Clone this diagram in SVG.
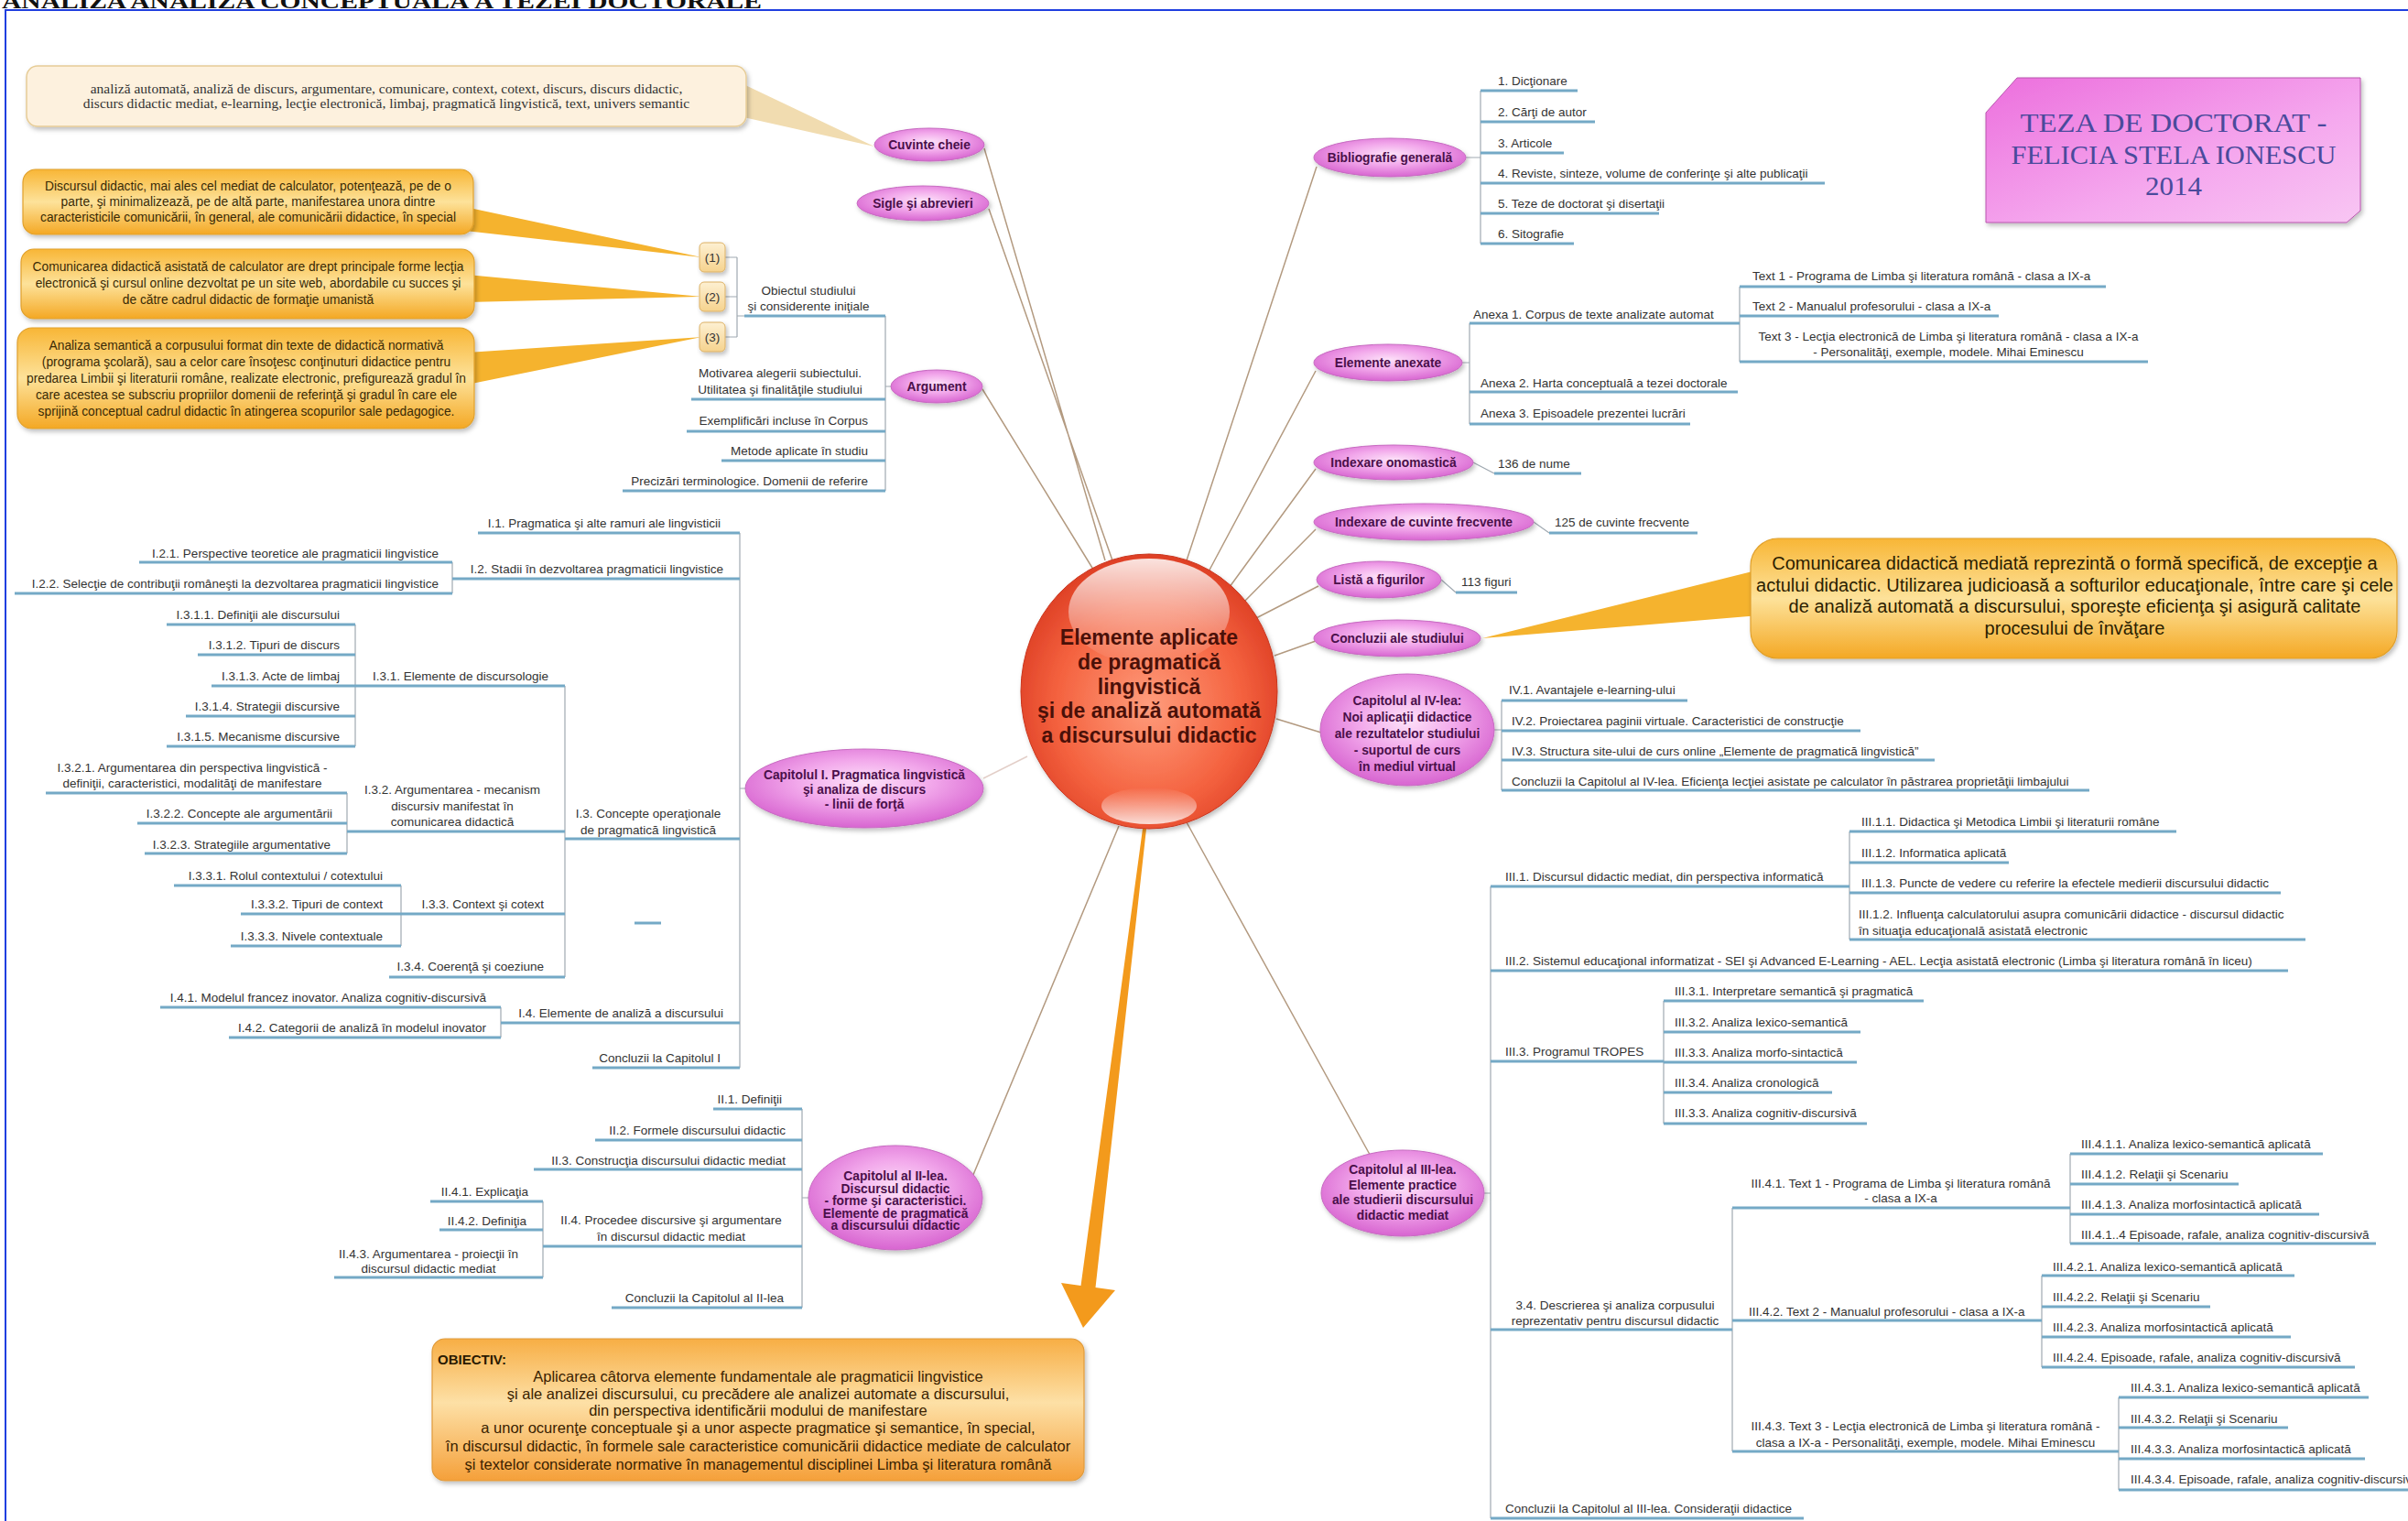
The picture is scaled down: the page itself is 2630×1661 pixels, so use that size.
<svg xmlns="http://www.w3.org/2000/svg" width="2630" height="1661" viewBox="0 0 2630 1661">
<style>
.t{font-family:"Liberation Sans",Arial,sans-serif;font-size:13.5px;fill:#333}
.e{text-anchor:end}.m{text-anchor:middle}
.ul{stroke:#74a9c6;stroke-width:3;fill:none}
.br{stroke:#a0a9b1;stroke-width:1.2;fill:none}
.mn{fill:url(#pink);stroke:#c66bc0;stroke-width:1;filter:url(#sh)}
.mt{font-family:"Liberation Sans",Arial,sans-serif;font-weight:bold;font-size:13.8px;fill:#4a0f4a;text-anchor:middle}
.cn{stroke:#b39a80;stroke-width:1.5;fill:none}
.nt{font-family:"Liberation Sans",Arial,sans-serif;font-size:13.8px;fill:#3a2a05;text-anchor:middle}
.org{fill:url(#org);stroke:#e0a02c;stroke-width:1.2;filter:url(#sh)}
.tail{fill:#f5b32e}
.sb{fill:url(#cream);stroke:#dcb064;stroke-width:1;filter:url(#sh)}
</style>
<defs>
<radialGradient id="pink" cx="50%" cy="42%" r="62%"><stop offset="0" stop-color="#fde2f9"/><stop offset="0.45" stop-color="#f2a8eb"/><stop offset="1" stop-color="#d45ccd"/></radialGradient>
<radialGradient id="red" cx="50%" cy="55%" r="60%"><stop offset="0" stop-color="#ff9c7c"/><stop offset="0.6" stop-color="#f4623f"/><stop offset="1" stop-color="#d8361e"/></radialGradient>
<linearGradient id="hl" x1="0" y1="0" x2="0" y2="1"><stop offset="0" stop-color="#fff" stop-opacity="0.85"/><stop offset="1" stop-color="#fff" stop-opacity="0"/></linearGradient>
<linearGradient id="hl2" x1="0" y1="1" x2="0" y2="0"><stop offset="0" stop-color="#fff" stop-opacity="0.8"/><stop offset="1" stop-color="#fff" stop-opacity="0"/></linearGradient>
<linearGradient id="org" x1="0" y1="0" x2="0" y2="1"><stop offset="0" stop-color="#f8b636"/><stop offset="0.5" stop-color="#fde29a"/><stop offset="1" stop-color="#f4a824"/></linearGradient>
<linearGradient id="obj" x1="0" y1="0" x2="0" y2="1"><stop offset="0" stop-color="#f7ae45"/><stop offset="0.45" stop-color="#fde0a6"/><stop offset="1" stop-color="#f5a03a"/></linearGradient>
<linearGradient id="cream" x1="0" y1="0" x2="0" y2="1"><stop offset="0" stop-color="#fdf0d2"/><stop offset="1" stop-color="#f6d38e"/></linearGradient>
<linearGradient id="title" x1="0" y1="0" x2="1" y2="1"><stop offset="0" stop-color="#ec6fdd"/><stop offset="0.6" stop-color="#f5a8ee"/><stop offset="1" stop-color="#f8c6f3"/></linearGradient>
<filter id="sh" x="-10%" y="-15%" width="125%" height="140%"><feDropShadow dx="2" dy="3" stdDeviation="2.5" flood-color="#000" flood-opacity="0.25"/></filter>
</defs>
<rect width="2630" height="1661" fill="#fff"/>
<text x="2" y="9" font-family="Liberation Serif,serif" font-weight="bold" font-size="24" textLength="830" lengthAdjust="spacingAndGlyphs" fill="#111">ANALIZA ANALIZA CONCEPTUALĂ A TEZEI DOCTORALE</text>
<rect x="6" y="11" width="2640" height="1700" fill="none" stroke="#1f3fe0" stroke-width="2"/>

<g id="connectors">
<path class="cn" d="M1075 162 L1207 612 M1080 228 L1215 612 M1073 425 L1196 625 M1438 182 L1296 612 M1437 405 L1318 628 M1437 512 L1340 645 M1437 578 L1356 660 M1440 640 L1372 675 M1437 700 L1392 716 M1443 800 L1394 785 M1500 1268 L1296 898 M1060 1290 L1222 902"/>
<path d="M1074 850 L1122 826" stroke="#e3cfc8" stroke-width="1.5" fill="none"/>
<path d="M1252 905 L1196.5 1406 L1218 1409 L1183 1450 L1159 1401 L1180.5 1404 L1248 905 Z" fill="#f39a1c"/>
<path class="br" d="M792 281 H805 M792 324 H805 M792 368 H805 M805 281 V368 M805 345 H813 M967 345 V536 M973 422 H967"/>
<path class="br" d="M808 582 V1166 M814 861 H808 M494 614 V648 M617 749 V1067 M388 682 V815 M379 866 V932 M438 967 V1033 M547 1100 V1133"/>
<path class="br" d="M876 1211 V1428 M883 1308 H876 M593 1312 V1395"/>
<path class="br" d="M1617 99 V266 M1601 172 H1617 M1605 353 V463 M1597 396 H1605 M1900 313 V395 M1609 505 L1632 517 M1675 570 L1692 582 M1574 633 L1590 647"/>
<path class="br" d="M1640 765 V863 M1632 797 H1640 M1628 968 V1658 M1621 1303 H1628 M2020 908 V1026 M1817 1093 V1227 M1892 1319 V1585 M2261 1260 V1358 M2230 1393 V1493 M2314 1526 V1627"/>
<path class="ul" d="M693 1008 H722"/>
</g>

<g id="keywords">
<polygon points="812,92 812,128 955,160" fill="#f1dcb0"/>
<rect x="29" y="72" width="786" height="66" rx="12" fill="#fdf1de" stroke="#e6cc96" stroke-width="1.5" filter="url(#sh)"/>
<text x="422" y="102" font-family="Liberation Serif,serif" font-size="15.5" fill="#333" text-anchor="middle">analiză automată, analiză de discurs, argumentare, comunicare, context, cotext, discurs, discurs didactic,</text>
<text x="422" y="117.5" font-family="Liberation Serif,serif" font-size="15.5" fill="#333" text-anchor="middle">discurs didactic mediat, e-learning, lecţie electronică, limbaj, pragmatică lingvistică, text, univers semantic</text>
</g>

<g id="note1">
<polygon class="tail" points="508,226 508,252 766,281"/>
<rect class="org" x="25" y="185" width="492" height="71" rx="14"/>
<text class="nt" x="271" y="207.5">Discursul didactic, mai ales cel mediat de calculator, potenţează, pe de o</text>
<text class="nt" x="271" y="224.5">parte, şi minimalizează, pe de altă parte, manifestarea unora dintre</text>
<text class="nt" x="271" y="241.5">caracteristicile comunicării, în general, ale comunicării didactice, în special</text>
</g>
<g id="note2">
<polygon class="tail" points="510,300 510,330 766,324"/>
<rect class="org" x="23" y="272" width="495" height="76" rx="14"/>
<text class="nt" x="271" y="296">Comunicarea didactică asistată de calculator are drept principale forme lecţia</text>
<text class="nt" x="271" y="314">electronică şi cursul online dezvoltat pe un site web, abordabile cu succes şi</text>
<text class="nt" x="271" y="332">de către cadrul didactic de formaţie umanistă</text>
</g>
<g id="note3">
<polygon class="tail" points="510,385 510,420 766,368"/>
<rect class="org" x="19" y="358" width="499" height="110" rx="16"/>
<text class="nt" x="269" y="382">Analiza semantică a corpusului format din texte de didactică normativă</text>
<text class="nt" x="269" y="400">(programa şcolară), sau a celor care însoţesc conţinuturi didactice pentru</text>
<text class="nt" x="269" y="418">predarea Limbii şi literaturii române, realizate electronic, prefigurează gradul în</text>
<text class="nt" x="269" y="436">care acestea se subscriu propriilor domenii de referinţă şi gradul în care ele</text>
<text class="nt" x="269" y="454">sprijină conceptual cadrul didactic în atingerea scopurilor sale pedagogice.</text>
</g>
<g id="b1"><rect class="sb" x="764" y="265" width="28" height="32" rx="5"/><text class="t m" x="778" y="286">(1)</text></g>
<g id="b2"><rect class="sb" x="764" y="308" width="28" height="32" rx="5"/><text class="t m" x="778" y="329">(2)</text></g>
<g id="b3"><rect class="sb" x="764" y="352" width="28" height="32" rx="5"/><text class="t m" x="778" y="373">(3)</text></g>

<g id="center">
<ellipse cx="1255" cy="755" rx="140" ry="150" fill="url(#red)" stroke="#c9351d" stroke-width="1" filter="url(#sh)"/>
<ellipse cx="1255" cy="668" rx="88" ry="58" fill="url(#hl)"/>
<ellipse cx="1255" cy="880" rx="52" ry="20" fill="url(#hl2)"/>
<g font-family="Liberation Sans,Arial,sans-serif" font-weight="bold" font-size="23" fill="#4a1008" text-anchor="middle">
<text x="1255" y="704">Elemente aplicate</text>
<text x="1255" y="731">de pragmatică</text>
<text x="1255" y="758">lingvistică</text>
<text x="1255" y="784">şi de analiză automată</text>
<text x="1255" y="811">a discursului didactic</text>
</g>
</g>

<g id="cuvinte"><ellipse class="mn" cx="1015" cy="158" rx="60" ry="18"/><text class="mt" x="1015" y="163">Cuvinte cheie</text></g>
<g id="sigle"><ellipse class="mn" cx="1008" cy="222" rx="72" ry="19"/><text class="mt" x="1008" y="227">Sigle şi abrevieri</text></g>
<g id="argument"><ellipse class="mn" cx="1023" cy="422" rx="50" ry="18"/><text class="mt" x="1023" y="427">Argument</text></g>

<g id="a-obiectul"><text class="t m" x="883" y="322">Obiectul studiului</text><text class="t m" x="883" y="339">şi considerente iniţiale</text><path class="ul" d="M813 345 H967"/></g>
<g id="a-motivarea"><text class="t m" x="852" y="412">Motivarea alegerii subiectului.</text><text class="t m" x="852" y="430">Utilitatea şi finalităţile studiului</text><path class="ul" d="M755 436 H967"/></g>
<g id="a-exemplificari"><text class="t e" x="948" y="464">Exemplificări incluse în Corpus</text><path class="ul" d="M750 471 H967"/></g>
<g id="a-metode"><text class="t e" x="948" y="497">Metode aplicate în studiu</text><path class="ul" d="M788 503 H967"/></g>
<g id="a-precizari"><text class="t e" x="948" y="530">Precizări terminologice. Domenii de referire</text><path class="ul" d="M680 536 H967"/></g>

<g id="cap1"><ellipse class="mn" cx="944" cy="861" rx="130" ry="43"/>
<text class="mt" x="944" y="851" font-size="14.5">Capitolul I. Pragmatica lingvistică</text><text class="mt" x="944" y="867" font-size="14.5">şi analiza de discurs</text><text class="mt" x="944" y="883" font-size="14.5">- linii de forţă</text></g>
<g id="i1"><text class="t e" x="787" y="576">I.1. Pragmatica şi alte ramuri ale lingvisticii</text><path class="ul" d="M522 582 H808"/></g>
<g id="i2"><text class="t e" x="790" y="626">I.2. Stadii în dezvoltarea pragmaticii lingvistice</text><path class="ul" d="M494 632 H808"/></g>
<g id="i21"><text class="t e" x="479" y="609">I.2.1. Perspective teoretice ale pragmaticii lingvistice</text><path class="ul" d="M152 614 H494"/></g>
<g id="i22"><text class="t e" x="479" y="642">I.2.2. Selecţie de contribuţii româneşti la dezvoltarea pragmaticii lingvistice</text><path class="ul" d="M16 648 H494"/></g>
<g id="i3"><text class="t m" x="708" y="893">I.3. Concepte operaţionale</text><text class="t m" x="708" y="911">de pragmatică lingvistică</text><path class="ul" d="M617 916 H808"/></g>
<g id="i31"><text class="t e" x="599" y="743">I.3.1. Elemente de discursologie</text><path class="ul" d="M388 749 H617"/></g>
<g id="i311"><text class="t e" x="371" y="676">I.3.1.1. Definiţii ale discursului</text><path class="ul" d="M182 682 H388"/></g>
<g id="i312"><text class="t e" x="371" y="709">I.3.1.2. Tipuri de discurs</text><path class="ul" d="M216 715 H388"/></g>
<g id="i313"><text class="t e" x="371" y="743">I.3.1.3. Acte de limbaj</text><path class="ul" d="M231 749 H388"/></g>
<g id="i314"><text class="t e" x="371" y="776">I.3.1.4. Strategii discursive</text><path class="ul" d="M203 782 H388"/></g>
<g id="i315"><text class="t e" x="371" y="809">I.3.1.5. Mecanisme discursive</text><path class="ul" d="M182 815 H388"/></g>
<g id="i32"><text class="t m" x="494" y="867">I.3.2. Argumentarea - mecanism</text><text class="t m" x="494" y="885">discursiv manifestat în</text><text class="t m" x="494" y="902">comunicarea didactică</text><path class="ul" d="M379 908 H617"/></g>
<g id="i321"><text class="t m" x="210" y="843">I.3.2.1. Argumentarea din perspectiva lingvistică -</text><text class="t m" x="210" y="860">definiţii, caracteristici, modalităţi de manifestare</text><path class="ul" d="M50 866 H379"/></g>
<g id="i322"><text class="t e" x="363" y="893">I.3.2.2. Concepte ale argumentării</text><path class="ul" d="M150 899 H379"/></g>
<g id="i323"><text class="t e" x="361" y="927">I.3.2.3. Strategiile argumentative</text><path class="ul" d="M158 932 H379"/></g>
<g id="i33"><text class="t e" x="594" y="992">I.3.3. Context şi cotext</text><path class="ul" d="M438 998 H617"/></g>
<g id="i331"><text class="t e" x="418" y="961">I.3.3.1. Rolul contextului / cotextului</text><path class="ul" d="M190 967 H438"/></g>
<g id="i332"><text class="t e" x="418" y="992">I.3.3.2. Tipuri de context</text><path class="ul" d="M263 998 H438"/></g>
<g id="i333"><text class="t e" x="418" y="1027">I.3.3.3. Nivele contextuale</text><path class="ul" d="M252 1033 H438"/></g>
<g id="i34"><text class="t e" x="594" y="1060">I.3.4. Coerenţă şi coeziune</text><path class="ul" d="M425 1067 H617"/></g>
<g id="i4"><text class="t e" x="790" y="1111">I.4. Elemente de analiză a discursului</text><path class="ul" d="M547 1117 H808"/></g>
<g id="i41"><text class="t e" x="531" y="1094">I.4.1. Modelul francez inovator. Analiza cognitiv-discursivă</text><path class="ul" d="M175 1100 H547"/></g>
<g id="i42"><text class="t e" x="531" y="1127">I.4.2. Categorii de analiză în modelul inovator</text><path class="ul" d="M250 1133 H547"/></g>
<g id="i5"><text class="t e" x="787" y="1160">Concluzii la Capitolul I</text><path class="ul" d="M647 1166 H808"/></g>

<g id="cap2"><ellipse class="mn" cx="978" cy="1308" rx="95" ry="57"/>
<text class="mt" x="978" y="1289" font-size="13">Capitolul al II-lea.</text><text class="mt" x="978" y="1302.5" font-size="13">Discursul didactic</text><text class="mt" x="978" y="1316" font-size="13">- forme şi caracteristici.</text><text class="mt" x="978" y="1329.5" font-size="13">Elemente de pragmatică</text><text class="mt" x="978" y="1343" font-size="13">a discursului didactic</text></g>
<g id="ii1"><text class="t e" x="854" y="1205">II.1. Definiţii</text><path class="ul" d="M779 1211 H876"/></g>
<g id="ii2"><text class="t e" x="858" y="1239">II.2. Formele discursului didactic</text><path class="ul" d="M650 1245 H876"/></g>
<g id="ii3"><text class="t e" x="858" y="1272">II.3. Construcţia discursului didactic mediat</text><path class="ul" d="M583 1277 H876"/></g>
<g id="ii4"><text class="t m" x="733" y="1337">II.4. Procedee discursive şi argumentare</text><text class="t m" x="733" y="1355">în discursul didactic mediat</text><path class="ul" d="M593 1361 H876"/></g>
<g id="ii41"><text class="t e" x="577" y="1306">II.4.1. Explicaţia</text><path class="ul" d="M470 1312 H593"/></g>
<g id="ii42"><text class="t e" x="575" y="1338">II.4.2. Definiţia</text><path class="ul" d="M480 1343 H593"/></g>
<g id="ii43"><text class="t m" x="468" y="1374">II.4.3. Argumentarea - proiecţii în</text><text class="t m" x="468" y="1390">discursul didactic mediat</text><path class="ul" d="M365 1395 H593"/></g>
<g id="ii5"><text class="t e" x="856" y="1422">Concluzii la Capitolul al II-lea</text><path class="ul" d="M668 1428 H876"/></g>

<g id="obiectiv">
<rect x="472" y="1462" width="712" height="155" rx="14" fill="url(#obj)" stroke="#e09a3a" stroke-width="1.2" filter="url(#sh)"/>
<text x="478" y="1490" font-family="Liberation Sans,Arial,sans-serif" font-weight="bold" font-size="15" fill="#2a1a00">OBIECTIV:</text>
<g font-family="Liberation Sans,Arial,sans-serif" font-size="16.5" fill="#3a2200" text-anchor="middle">
<text x="828" y="1509">Aplicarea câtorva elemente fundamentale ale pragmaticii lingvistice</text>
<text x="828" y="1528">şi ale analizei discursului, cu precădere ale analizei automate a discursului,</text>
<text x="828" y="1546">din perspectiva identificării modului de manifestare</text>
<text x="828" y="1565">a unor ocurenţe conceptuale şi a unor aspecte pragmatice şi semantice, în special,</text>
<text x="828" y="1585">în discursul didactic, în formele sale caracteristice comunicării didactice mediate de calculator</text>
<text x="828" y="1605">şi textelor considerate normative în managementul disciplinei Limba şi literatura română</text>
</g>
</g>

<g id="title">
<polygon points="2203,85 2578,85 2578,230 2563,243 2169,243 2169,123" fill="url(#title)" stroke="#b955ae" stroke-width="1" filter="url(#sh)"/>
<g font-family="Liberation Serif,serif" font-size="30" fill="#4a4a9c" text-anchor="middle">
<text x="2374" y="144" textLength="335" lengthAdjust="spacingAndGlyphs">TEZA DE DOCTORAT -</text>
<text x="2374" y="179" textLength="355" lengthAdjust="spacingAndGlyphs">FELICIA STELA IONESCU</text>
<text x="2374" y="213" textLength="62" lengthAdjust="spacingAndGlyphs">2014</text>
</g>
</g>

<g id="bibliografie"><ellipse class="mn" cx="1518" cy="172" rx="83" ry="21"/><text class="mt" x="1518" y="177">Bibliografie generală</text></g>
<g id="bib1"><text class="t" x="1636" y="93">1. Dicţionare</text><path class="ul" d="M1617 99 H1723"/></g>
<g id="bib2"><text class="t" x="1636" y="127">2. Cărţi de autor</text><path class="ul" d="M1617 133 H1742"/></g>
<g id="bib3"><text class="t" x="1636" y="161">3. Articole</text><path class="ul" d="M1617 167 H1708"/></g>
<g id="bib4"><text class="t" x="1636" y="194">4. Reviste, sinteze, volume de conferinţe şi alte publicaţii</text><path class="ul" d="M1617 200 H1993"/></g>
<g id="bib5"><text class="t" x="1636" y="227">5. Teze de doctorat şi disertaţii</text><path class="ul" d="M1617 233 H1812"/></g>
<g id="bib6"><text class="t" x="1636" y="260">6. Sitografie</text><path class="ul" d="M1617 266 H1719"/></g>

<g id="anexe"><ellipse class="mn" cx="1516" cy="396" rx="81" ry="20"/><text class="mt" x="1516" y="401">Elemente anexate</text></g>
<g id="anx1"><text class="t" x="1609" y="348">Anexa 1. Corpus de texte analizate automat</text><path class="ul" d="M1605 353 H1900"/></g>
<g id="txt1"><text class="t" x="1914" y="306">Text 1 - Programa de Limba şi literatura română - clasa a IX-a</text><path class="ul" d="M1900 313 H2300"/></g>
<g id="txt2"><text class="t" x="1914" y="339">Text 2 - Manualul profesorului - clasa a IX-a</text><path class="ul" d="M1900 345 H2183"/></g>
<g id="txt3"><text class="t m" x="2128" y="372">Text 3 - Lecţia electronică de Limba şi literatura română - clasa a IX-a</text><text class="t m" x="2128" y="389">- Personalităţi, exemple, modele. Mihai Eminescu</text><path class="ul" d="M1900 395 H2346"/></g>
<g id="anx2"><text class="t" x="1617" y="423">Anexa 2. Harta conceptuală a tezei doctorale</text><path class="ul" d="M1605 428 H1898"/></g>
<g id="anx3"><text class="t" x="1617" y="456">Anexa 3. Episoadele prezentei lucrări</text><path class="ul" d="M1605 463 H1846"/></g>

<g id="onomastica"><ellipse class="mn" cx="1522" cy="505" rx="87" ry="19"/><text class="mt" x="1522" y="510">Indexare onomastică</text></g>
<g id="nume"><text class="t" x="1636" y="511">136 de nume</text><path class="ul" d="M1632 517 H1727"/></g>
<g id="frecvente"><ellipse class="mn" cx="1555" cy="570" rx="120" ry="20"/><text class="mt" x="1555" y="575">Indexare de cuvinte frecvente</text></g>
<g id="cuv125"><text class="t" x="1698" y="575">125 de cuvinte frecvente</text><path class="ul" d="M1692 582 H1854"/></g>
<g id="figuri"><ellipse class="mn" cx="1506" cy="633" rx="68" ry="20"/><text class="mt" x="1506" y="638">Listă a figurilor</text></g>
<g id="fig113"><text class="t" x="1596" y="640">113 figuri</text><path class="ul" d="M1590 647 H1657"/></g>
<g id="concluzii"><ellipse class="mn" cx="1526" cy="697" rx="91" ry="20"/><text class="mt" x="1526" y="702">Concluzii ale studiului</text></g>
<g id="concluzii-note">
<polygon class="tail" points="1922,622 1922,672 1619,697"/>
<rect class="org" x="1912" y="588" width="706" height="131" rx="30"/>
<g font-family="Liberation Sans,Arial,sans-serif" font-size="20" fill="#2b2000" text-anchor="middle">
<text x="2266" y="622">Comunicarea didactică mediată reprezintă o formă specifică, de excepţie a</text>
<text x="2266" y="646">actului didactic. Utilizarea judicioasă a softurilor educaţionale, între care şi cele</text>
<text x="2266" y="669">de analiză automată a discursului, sporeşte eficienţa şi asigură calitate</text>
<text x="2266" y="693">procesului de învăţare</text>
</g>
</g>

<g id="cap4"><ellipse class="mn" cx="1537" cy="797" rx="95" ry="61"/>
<text class="mt" x="1537" y="770" font-size="14.3">Capitolul al IV-lea:</text><text class="mt" x="1537" y="788" font-size="14.3">Noi aplicaţii didactice</text><text class="mt" x="1537" y="806" font-size="14.3">ale rezultatelor studiului</text><text class="mt" x="1537" y="824" font-size="14.3">- suportul de curs</text><text class="mt" x="1537" y="842" font-size="14.3">în mediul virtual</text></g>
<g id="iv1"><text class="t" x="1648" y="758">IV.1. Avantajele e-learning-ului</text><path class="ul" d="M1640 765 H1843"/></g>
<g id="iv2"><text class="t" x="1651" y="792">IV.2. Proiectarea paginii virtuale. Caracteristici de construcţie</text><path class="ul" d="M1640 798 H2032"/></g>
<g id="iv3"><text class="t" x="1651" y="825">IV.3. Structura site-ului de curs online „Elemente de pragmatică lingvistică”</text><path class="ul" d="M1640 830 H2113"/></g>
<g id="iv4"><text class="t" x="1651" y="858">Concluzii la Capitolul al IV-lea. Eficienţa lecţiei asistate pe calculator în păstrarea proprietăţii limbajului</text><path class="ul" d="M1640 863 H2282"/></g>

<g id="cap3"><ellipse class="mn" cx="1532" cy="1303" rx="89" ry="47"/>
<text class="mt" x="1532" y="1282" font-size="14.2">Capitolul al III-lea.</text><text class="mt" x="1532" y="1298.5" font-size="14.2">Elemente practice</text><text class="mt" x="1532" y="1315" font-size="14.2">ale studierii discursului</text><text class="mt" x="1532" y="1332" font-size="14.2">didactic mediat</text></g>
<g id="iii1"><text class="t" x="1644" y="962">III.1. Discursul didactic mediat, din perspectiva informatică</text><path class="ul" d="M1628 968 H2020"/></g>
<g id="iii11"><text class="t" x="2033" y="902">III.1.1. Didactica şi Metodica Limbii şi literaturii române</text><path class="ul" d="M2020 908 H2377"/></g>
<g id="iii12"><text class="t" x="2033" y="936">III.1.2. Informatica aplicată</text><path class="ul" d="M2020 942 H2194"/></g>
<g id="iii13"><text class="t" x="2033" y="969">III.1.3. Puncte de vedere cu referire la efectele medierii discursului didactic</text><path class="ul" d="M2020 975 H2491"/></g>
<g id="iii14"><text class="t" x="2030" y="1003">III.1.2. Influenţa calculatorului asupra comunicării didactice - discursul didactic</text><text class="t" x="2030" y="1021">în situaţia educaţională asistată electronic</text><path class="ul" d="M2020 1026 H2518"/></g>
<g id="iii2"><text class="t" x="1644" y="1054">III.2. Sistemul educaţional informatizat - SEI şi Advanced E-Learning - AEL. Lecţia asistată electronic (Limba şi literatura română în liceu)</text><path class="ul" d="M1628 1060 H2499"/></g>
<g id="iii3"><text class="t" x="1644" y="1153">III.3. Programul TROPES</text><path class="ul" d="M1628 1159 H1817"/></g>
<g id="iii31"><text class="t" x="1829" y="1087">III.3.1. Interpretare semantică şi pragmatică</text><path class="ul" d="M1817 1093 H2101"/></g>
<g id="iii32"><text class="t" x="1829" y="1121">III.3.2. Analiza lexico-semantică</text><path class="ul" d="M1817 1127 H2032"/></g>
<g id="iii33"><text class="t" x="1829" y="1154">III.3.3. Analiza morfo-sintactică</text><path class="ul" d="M1817 1160 H2028"/></g>
<g id="iii34"><text class="t" x="1829" y="1187">III.3.4. Analiza cronologică</text><path class="ul" d="M1817 1193 H2001"/></g>
<g id="iii35"><text class="t" x="1829" y="1220">III.3.3. Analiza cognitiv-discursivă</text><path class="ul" d="M1817 1227 H2039"/></g>
<g id="iii4"><text class="t m" x="1764" y="1430">3.4. Descrierea şi analiza corpusului</text><text class="t m" x="1764" y="1447">reprezentativ pentru discursul didactic</text><path class="ul" d="M1628 1452 H1892"/></g>
<g id="iii41"><text class="t m" x="2076" y="1297">III.4.1. Text 1 - Programa de Limba şi literatura română</text><text class="t m" x="2076" y="1313">- clasa a IX-a</text><path class="ul" d="M1892 1319 H2261"/></g>
<g id="iii411"><text class="t" x="2273" y="1254">III.4.1.1. Analiza lexico-semantică aplicată</text><path class="ul" d="M2261 1260 H2537"/></g>
<g id="iii412"><text class="t" x="2273" y="1287">III.4.1.2. Relaţii şi Scenariu</text><path class="ul" d="M2261 1293 H2445"/></g>
<g id="iii413"><text class="t" x="2273" y="1320">III.4.1.3. Analiza morfosintactică aplicată</text><path class="ul" d="M2261 1326 H2533"/></g>
<g id="iii414"><text class="t" x="2273" y="1353">III.4.1..4 Episoade, rafale, analiza cognitiv-discursivă</text><path class="ul" d="M2261 1358 H2595"/></g>
<g id="iii42"><text class="t" x="1910" y="1437">III.4.2. Text 2 - Manualul profesorului - clasa a IX-a</text><path class="ul" d="M1892 1442 H2230"/></g>
<g id="iii421"><text class="t" x="2242" y="1388">III.4.2.1. Analiza lexico-semantică aplicată</text><path class="ul" d="M2230 1393 H2506"/></g>
<g id="iii422"><text class="t" x="2242" y="1421">III.4.2.2. Relaţii şi Scenariu</text><path class="ul" d="M2230 1427 H2414"/></g>
<g id="iii423"><text class="t" x="2242" y="1454">III.4.2.3. Analiza morfosintactică aplicată</text><path class="ul" d="M2230 1460 H2502"/></g>
<g id="iii424"><text class="t" x="2242" y="1487">III.4.2.4. Episoade, rafale, analiza cognitiv-discursivă</text><path class="ul" d="M2230 1493 H2572"/></g>
<g id="iii43"><text class="t m" x="2103" y="1562">III.4.3. Text 3 - Lecţia electronică de Limba şi literatura română -</text><text class="t m" x="2103" y="1580">clasa a IX-a - Personalităţi, exemple, modele. Mihai Eminescu</text><path class="ul" d="M1892 1585 H2314"/></g>
<g id="iii431"><text class="t" x="2327" y="1520">III.4.3.1. Analiza lexico-semantică aplicată</text><path class="ul" d="M2314 1526 H2587"/></g>
<g id="iii432"><text class="t" x="2327" y="1554">III.4.3.2. Relaţii şi Scenariu</text><path class="ul" d="M2314 1559 H2499"/></g>
<g id="iii433"><text class="t" x="2327" y="1587">III.4.3.3. Analiza morfosintactică aplicată</text><path class="ul" d="M2314 1593 H2583"/></g>
<g id="iii434"><text class="t" x="2327" y="1620">III.4.3.4. Episoade, rafale, analiza cognitiv-discursivă</text><path class="ul" d="M2314 1627 H2640"/></g>
<g id="iii5"><text class="t" x="1644" y="1652">Concluzii la Capitolul al III-lea. Consideraţii didactice</text><path class="ul" d="M1628 1658 H1970"/></g>
</svg>
